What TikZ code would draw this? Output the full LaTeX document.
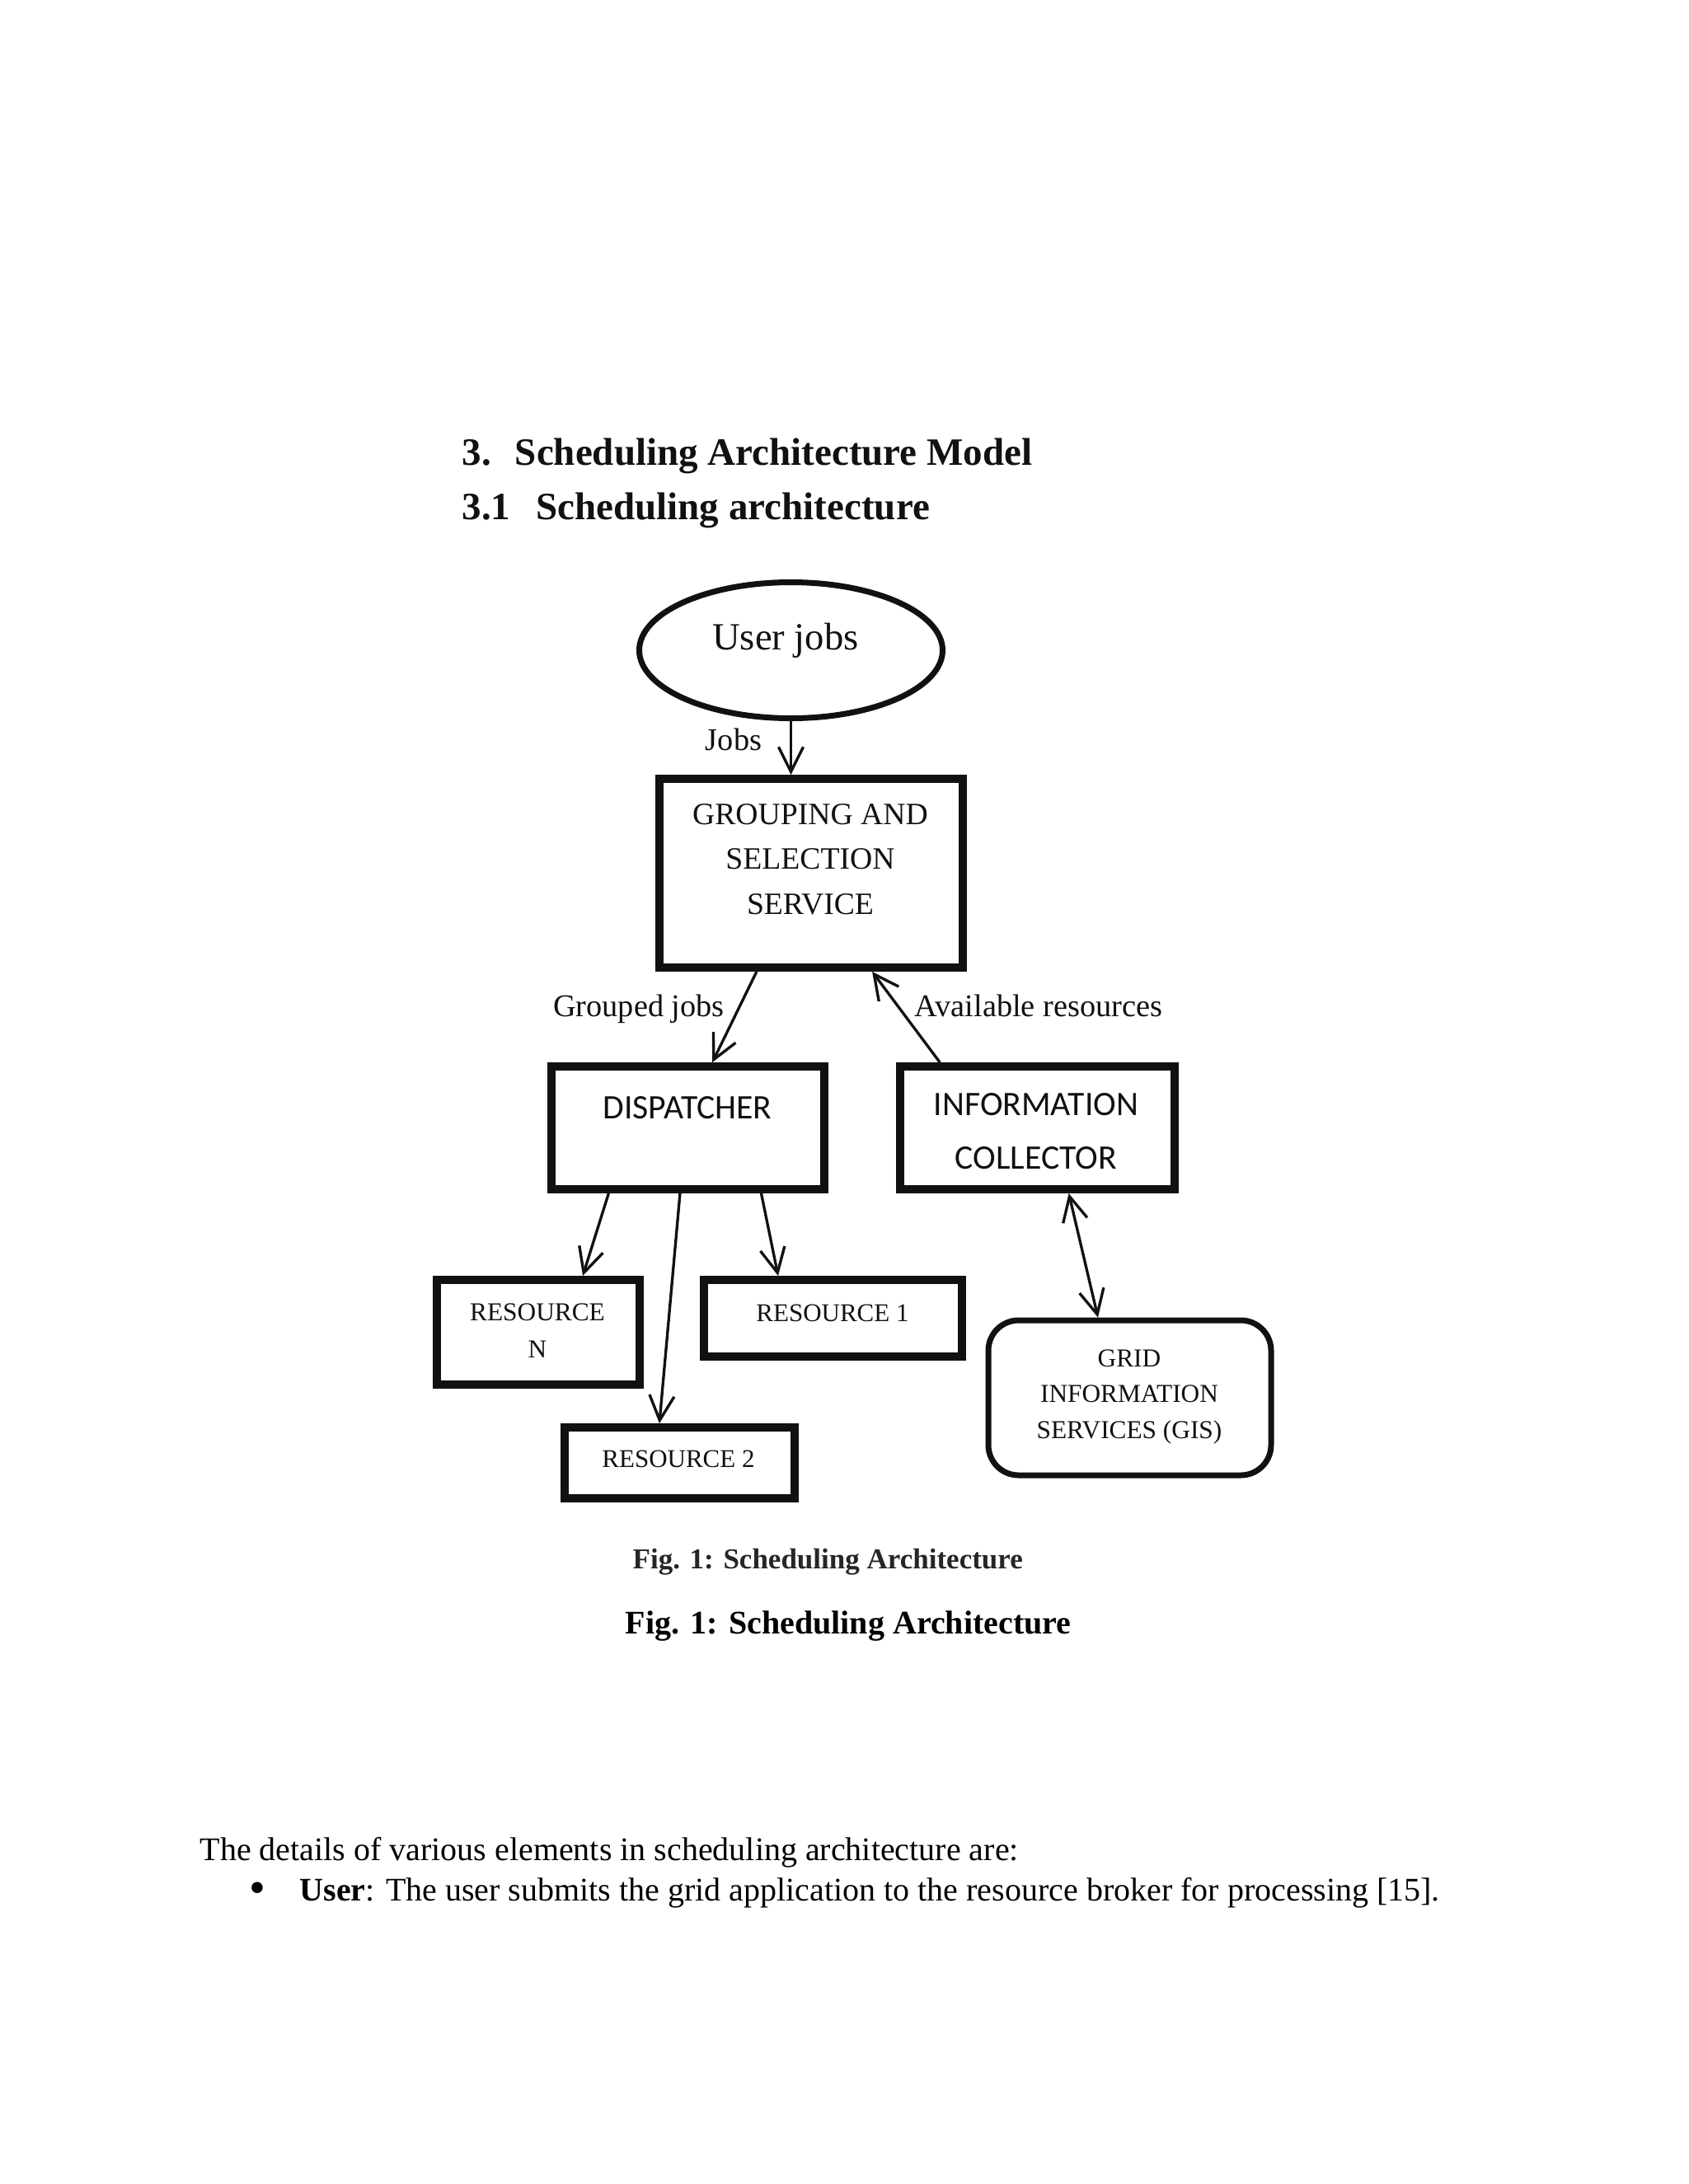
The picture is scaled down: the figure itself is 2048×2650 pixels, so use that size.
\documentclass[tikz,border=0pt]{standalone}
\usepackage{fontspec}
\setmainfont{Liberation Serif}
\newfontfamily\calfont{Carlito}
\usetikzlibrary{arrows.meta,shapes.geometric,fit,calc}
\definecolor{ink}{HTML}{111111}
\begin{document}
\begin{tikzpicture}[x=0.10542mm,y=-0.10542mm,
  box/.style={draw=ink,line width=3pt,inner sep=0pt,rectangle},
  gisbox/.style={draw=ink,line width=2.1pt,inner sep=0pt,rounded corners=11pt},
  txt/.style={inner sep=0pt,anchor=base,text=ink,align=center},
  arr/.style={draw=ink,line width=1pt,-{Straight Barb[length=9pt,width=9pt]}},
  darr/.style={draw=ink,line width=1pt,{Straight Barb[length=9pt,width=9pt]}-{Straight Barb[length=9pt,width=9pt]}}]
\useasboundingbox (0,0) rectangle (2048,2650);
\fill[white] (0,0) rectangle (2048,2650);

% headings
\node[txt,anchor=base west,font=\fontsize{14.1pt}{17pt}\selectfont\bfseries] (h1) at (560,564) {3.\hspace{8.7pt}Scheduling Architecture Model};
\node[txt,anchor=base west,font=\fontsize{14.1pt}{17pt}\selectfont\bfseries] (h2) at (560,630) {3.1\hspace{9.3pt}Scheduling architecture};

% shapes
\node[ellipse,draw=ink,line width=2.1pt,inner sep=0pt,minimum width=368*0.10542mm,minimum height=165*0.10542mm] (ell) at (959.5,789) {};
\node[txt,font=\fontsize{14pt}{17pt}\selectfont] (ellT) at (953,788) {User jobs};

\node[box,fit={(800,945) (1168,1174)}] (grp) {};
\node[txt,font=\fontsize{11.3pt}{16.3pt}\selectfont] (grpT) at (983,1109) {GROUPING AND\\SELECTION\\SERVICE};

\node[box,fit={(669,1294) (1000,1443)}] (disp) {};
\node[txt,font=\calfont\fontsize{12.5pt}{15pt}\selectfont] (dispT) at (834,1357) {DISPATCHER};

\node[box,fit={(1092,1294) (1425,1443)}] (info) {};
\node[txt,font=\calfont\fontsize{12.5pt}{19.4pt}\selectfont] (infoT) at (1257,1418) {INFORMATION\\COLLECTOR};

\node[box,fit={(530,1553) (776,1680)}] (resN) {};
\node[txt,font=\fontsize{9.4pt}{13.3pt}\selectfont] (resNT) at (652,1647) {RESOURCE\\N};

\node[box,fit={(854,1553) (1167,1646)}] (res1) {};
\node[txt,font=\fontsize{9.3pt}{12pt}\selectfont] (res1T) at (1010,1603) {RESOURCE 1};

\node[box,fit={(685,1732) (964,1818)}] (res2) {};
\node[txt,font=\fontsize{9.3pt}{12pt}\selectfont] (res2T) at (823,1780) {RESOURCE 2};

\node[gisbox,fit={(1199,1602) (1542,1790)}] (gis) {};
\node[txt,font=\fontsize{9.4pt}{13pt}\selectfont] (gisT) at (1370,1745) {GRID\\INFORMATION\\SERVICES (GIS)};

% connectors
\draw[arr] (ell.south) -- (ell.south |- grp.north);
\node[txt,font=\fontsize{11.5pt}{14pt}\selectfont] (jobsL) at (890,910) {Jobs};

\draw[arr] ($(grp.south west)!0.325!(grp.south east)$) -- ($(disp.north west)!0.587!(disp.north east)$);
\node[txt,font=\fontsize{11.5pt}{14pt}\selectfont] (gjL) at (775,1233) {Grouped jobs};

\draw[arr] ($(info.north west)!0.155!(info.north east)$) -- ($(grp.south west)!0.696!(grp.south east)$);
\node[txt,anchor=base west,font=\fontsize{11.5pt}{14pt}\selectfont] (arL) at (1109,1233) {Available resources};

\draw[arr] ($(disp.south west)!0.218!(disp.south east)$) -- ($(resN.north west)!0.711!(resN.north east)$);
\draw[arr] ($(disp.south west)!0.472!(disp.south east)$) -- ($(res2.north west)!0.415!(res2.north east)$);
\draw[arr] ($(disp.south west)!0.761!(disp.south east)$) -- ($(res1.north west)!0.294!(res1.north east)$);
\draw[darr] ($(info.south west)!0.611!(info.south east)$) -- ($(gis.north west)!0.39!(gis.north east)$);

% captions
\node[txt,anchor=base west,text=black!85,font=\fontsize{10.5pt}{13pt}\selectfont\bfseries] (cap1) at (767,1903) {Fig. 1: Scheduling Architecture};
\node[txt,anchor=base west,text=black,font=\fontsize{12pt}{14pt}\selectfont\bfseries] (cap2) at (758,1982) {Fig. 1: Scheduling Architecture};

% body text
\node[txt,anchor=base west,text=black,font=\fontsize{12pt}{14pt}\selectfont] (body1) at (242,2257) {The details of various elements in scheduling architecture are:};
\node[txt,text=black,font=\fontsize{17pt}{18pt}\selectfont] (bul) at (312,2309) {\textbullet};
\node[txt,anchor=base west,text=black,font=\fontsize{12pt}{14pt}\selectfont] (body2) at (363,2306) {\textbf{User}: The user submits the grid application to the resource broker for processing [15].};
\end{tikzpicture}
\end{document}
